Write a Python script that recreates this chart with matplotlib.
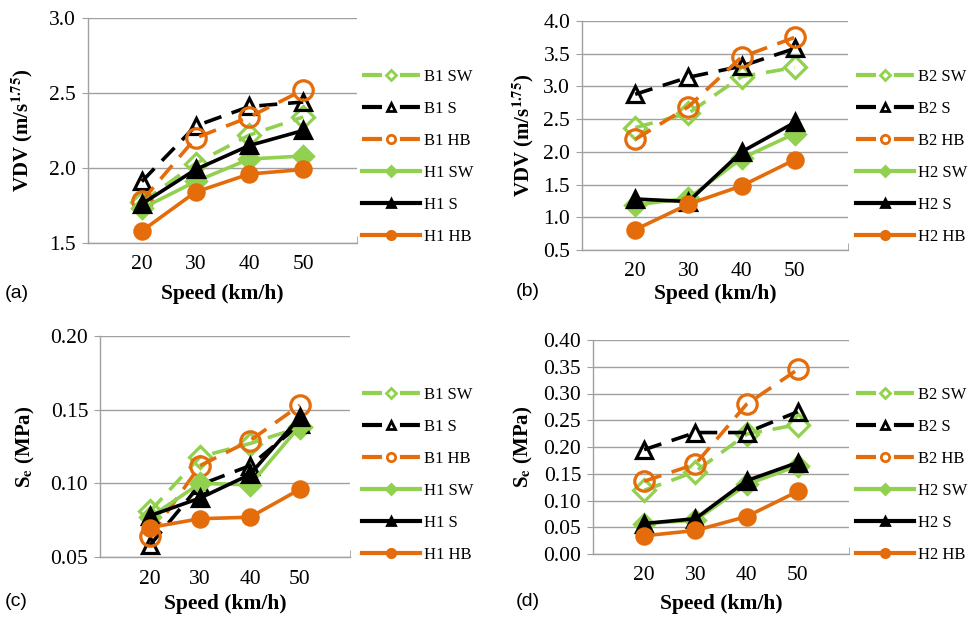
import matplotlib
matplotlib.use("Agg")
import matplotlib.pyplot as plt
from matplotlib.lines import Line2D

plt.rcParams['font.family'] = ['Liberation Serif', 'DejaVu Serif']
plt.rcParams['mathtext.fontset'] = 'stix'

speeds = [20, 30, 40, 50]

# (a) VDV, vehicle 1
a_B1_SW = [1.77, 2.03, 2.22, 2.34]
a_B1_S = [1.91, 2.28, 2.41, 2.44]
a_B1_HB = [1.78, 2.20, 2.34, 2.52]
a_H1_SW = [1.73, 1.91, 2.06, 2.08]
a_H1_S = [1.76, 1.99, 2.15, 2.25]
a_H1_HB = [1.58, 1.84, 1.96, 1.99]

# (b) VDV, vehicle 2
b_B2_SW = [2.37, 2.59, 3.15, 3.29]
b_B2_S = [2.88, 3.14, 3.31, 3.58]
b_B2_HB = [2.19, 2.69, 3.45, 3.75]
b_H2_SW = [1.19, 1.29, 1.90, 2.28]
b_H2_S = [1.28, 1.24, 2.00, 2.45]
b_H2_HB = [0.81, 1.20, 1.48, 1.88]

# (c) Se, vehicle 1
c_B1_SW = [0.081, 0.118, 0.127, 0.138]
c_B1_S = [0.058, 0.099, 0.112, 0.140]
c_B1_HB = [0.064, 0.112, 0.129, 0.153]
c_H1_SW = [0.077, 0.100, 0.099, 0.139]
c_H1_S = [0.078, 0.090, 0.106, 0.145]
c_H1_HB = [0.070, 0.076, 0.077, 0.096]

# (d) Se, vehicle 2
d_B2_SW = [0.119, 0.154, 0.224, 0.242]
d_B2_S = [0.195, 0.227, 0.227, 0.266]
d_B2_HB = [0.136, 0.168, 0.280, 0.345]
d_H2_SW = [0.057, 0.063, 0.130, 0.165]
d_H2_S = [0.057, 0.066, 0.137, 0.171]
d_H2_HB = [0.034, 0.044, 0.070, 0.117]

GREEN = '#92D050'
ORANGE = '#E46C0A'
BLACK = '#000000'

styles = [
    # color, marker, dashed, filled
    (GREEN, 'D', True, False),
    (BLACK, '^', True, False),
    (ORANGE, 'o', True, False),
    (GREEN, 'D', False, True),
    (BLACK, '^', False, True),
    (ORANGE, 'o', False, True),
]
marker_size = {('D', False): 11, ('^', False): 11, ('o', False): 14,
               ('D', True): 10, ('^', True): 11, ('o', True): 11}

fig = plt.figure(figsize=(9.68, 6.2), dpi=100)
W, H = 968, 620


def axes_px(left, top, right, bottom):
    ax = fig.add_axes([left / W, 1 - bottom / H, (right - left) / W, (bottom - top) / H])
    ax.px_box = (left, top, right, bottom)
    return ax


def draw_panel(ax, series, labels, ylim, yticks, yfmt, ylabel, ylab_x, xlab_y, tag, leg_px):
    left, top, right, bottom = ax.px_box
    ax.set_xlim(10, 60)
    ax.set_ylim(*ylim)
    for vals, (col, mk, dashed, filled) in zip(series, styles):
        ax.plot(speeds, vals, color=col, lw=2.6,
                linestyle=(0, (5, 3)) if dashed else '-',
                marker=mk, markersize=marker_size[(mk, filled)],
                markeredgewidth=2.3,
                markerfacecolor=col if filled else 'none',
                markeredgecolor=col, zorder=3)
    ax.set_xticks(speeds)
    ax.set_xticks([10, 60], minor=True)
    ax.set_yticks(yticks)
    ax.set_yticklabels([yfmt.format(v) for v in yticks])
    ax.grid(axis='y', color='#A0A0A0', lw=1.0)
    ax.set_axisbelow(True)
    for s in ['top', 'right']:
        ax.spines[s].set_visible(False)
    for s in ['left', 'bottom']:
        ax.spines[s].set_color('#A0A0A0')
        ax.spines[s].set_linewidth(1.0)
    ax.tick_params(axis='x', which='major', length=0, labelsize=15.5, pad=9)
    ax.tick_params(axis='x', which='minor', length=5, direction='in', color='#A0A0A0')
    ax.tick_params(axis='y', length=4.5, color='#A0A0A0', labelsize=15.5, pad=4)

    ax.set_xlabel('Speed (km/h)', fontsize=15.5, fontweight='bold', va='center')
    ax.xaxis.set_label_coords(0.5, (bottom - xlab_y) / (bottom - top))
    ax.set_ylabel(ylabel, fontsize=15, fontweight='bold', va='center')
    ax.yaxis.set_label_coords((ylab_x - left) / (right - left), 0.5)

    handles = []
    for col, mk, dashed, filled in styles:
        handles.append(Line2D([], [], color=col, lw=3,
                              linestyle=(0, (4.8, 4.3)) if dashed else '-',
                              marker=mk, markersize=5 if mk == 'D' else 6,
                              markeredgewidth=2,
                              markerfacecolor=col if filled else 'white',
                              markeredgecolor=col))
    fig.legend(handles, labels, loc='upper left',
               bbox_to_anchor=(leg_px[0] / W, 1 - leg_px[1] / H),
               frameon=False, fontsize=12, handlelength=3.45,
               handletextpad=0.3, labelspacing=0.96, borderpad=0,
               borderaxespad=0)
    fig.text(tag[1] / W, 1 - tag[2] / H, tag[0], fontsize=14,
             family='Liberation Sans', ha='left', va='center')


ax_a = axes_px(88, 18, 357, 243)
ax_b = axes_px(582, 21, 848, 250)
ax_c = axes_px(100, 336, 350, 557)
ax_d = axes_px(593, 340, 849, 554)

vdv_label = r'VDV (m/s$^{\mathbf{1.75}}$)'
se_label = r'S$_{\mathbf{e}}$ (MPa)'

draw_panel(ax_a, [a_B1_SW, a_B1_S, a_B1_HB, a_H1_SW, a_H1_S, a_H1_HB],
           ['B1 SW', 'B1 S', 'B1 HB', 'H1 SW', 'H1 S', 'H1 HB'],
           (1.5, 3.0), [1.5, 2.0, 2.5, 3.0], '{:.1f}', vdv_label, 22, 294,
           ('(a)', 5, 293), (362, 69))
draw_panel(ax_b, [b_B2_SW, b_B2_S, b_B2_HB, b_H2_SW, b_H2_S, b_H2_HB],
           ['B2 SW', 'B2 S', 'B2 HB', 'H2 SW', 'H2 S', 'H2 HB'],
           (0.5, 4.0), [0.5, 1.0, 1.5, 2.0, 2.5, 3.0, 3.5, 4.0], '{:.1f}', vdv_label, 523, 294,
           ('(b)', 516, 291), (856, 69))
draw_panel(ax_c, [c_B1_SW, c_B1_S, c_B1_HB, c_H1_SW, c_H1_S, c_H1_HB],
           ['B1 SW', 'B1 S', 'B1 HB', 'H1 SW', 'H1 S', 'H1 HB'],
           (0.05, 0.20), [0.05, 0.10, 0.15, 0.20], '{:.2f}', se_label, 25, 604,
           ('(c)', 5, 601), (362, 387))
draw_panel(ax_d, [d_B2_SW, d_B2_S, d_B2_HB, d_H2_SW, d_H2_S, d_H2_HB],
           ['B2 SW', 'B2 S', 'B2 HB', 'H2 SW', 'H2 S', 'H2 HB'],
           (0.0, 0.40), [0.0, 0.05, 0.10, 0.15, 0.20, 0.25, 0.30, 0.35, 0.40], '{:.2f}', se_label, 523, 604,
           ('(d)', 516, 601), (856, 387))

fig.savefig('out.png', dpi=100)
